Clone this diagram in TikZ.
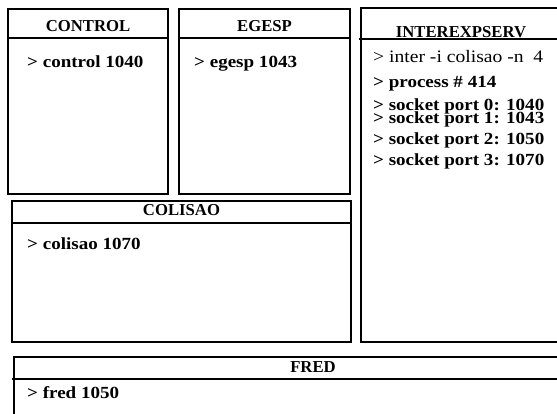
\documentclass[tikz,border=0pt]{standalone}
\usepackage{fontspec}
\setmainfont{Liberation Serif}
\newfontfamily\bodyfont[FakeStretch=1.12]{Liberation Serif}
\begin{document}
\begin{tikzpicture}[x=1pt,y=-1pt,
  box/.style={line width=1.5pt, line join=miter},
  ttl/.style={font=\fontsize{16.7}{18}\selectfont\bfseries, inner sep=0pt, anchor=base},
  txt/.style={font=\bodyfont\fontsize{17}{18}\selectfont\bfseries, inner sep=0pt, anchor=base west},
  txtr/.style={font=\bodyfont\fontsize{17.5}{18}\selectfont, inner sep=0pt, anchor=base west}]
\useasboundingbox (0,0) rectangle (557,414);
\clip (0,0) rectangle (557,414);
% CONTROL
\draw[box] (8,9) rectangle (168,194);
\draw[box] (8,38) -- (168,38);
\node[ttl] (tcontrol) at (88,31.5) {CONTROL};
\node[txt] (control) at (27,67.5) {> control 1040};
% EGESP
\draw[box] (179,9) rectangle (350,194);
\draw[box] (179,38) -- (350,38);
\node[ttl] (tegesp) at (264.5,31.5) {EGESP};
\node[txt] (egesp) at (194,67.5) {> egesp 1043};
% INTEREXPSERV
\draw[box] (600,8) -- (361,8) -- (361,342) -- (600,342);
\draw[box] (359,39) -- (600,39);
\node[ttl] (tinter) at (461,38) {INTEREXPSERV};
\node[txtr] (inter) at (373,63) {> inter -i colisao -n\ \ 4};
\node[txt] (process) at (373,88) {> process \# 414};
\node[txt] (s0) at (373,110.5) {> socket port 0: 1040};
\node[txt] (s1) at (373,124) {> socket port 1: 1043};
\node[txt] (s2) at (373,144.5) {> socket port 2: 1050};
\node[txt] (s3) at (373,165.5) {> socket port 3: 1070};
% COLISAO
\draw[box] (12,201) rectangle (351,342);
\draw[box] (12,223) -- (351,223);
\node[ttl] (tcolisao) at (181.5,216) {COLISAO};
\node[txt] (colisao) at (27,250) {> colisao 1070};
% FRED
\draw[box] (600,357) -- (14,357) -- (14,420);
\draw[box] (12,379) -- (600,379);
\node[ttl] (tfred) at (313,372.5) {FRED};
\node[txt] (fred) at (27,398) {> fred 1050};
\end{tikzpicture}
\end{document}
